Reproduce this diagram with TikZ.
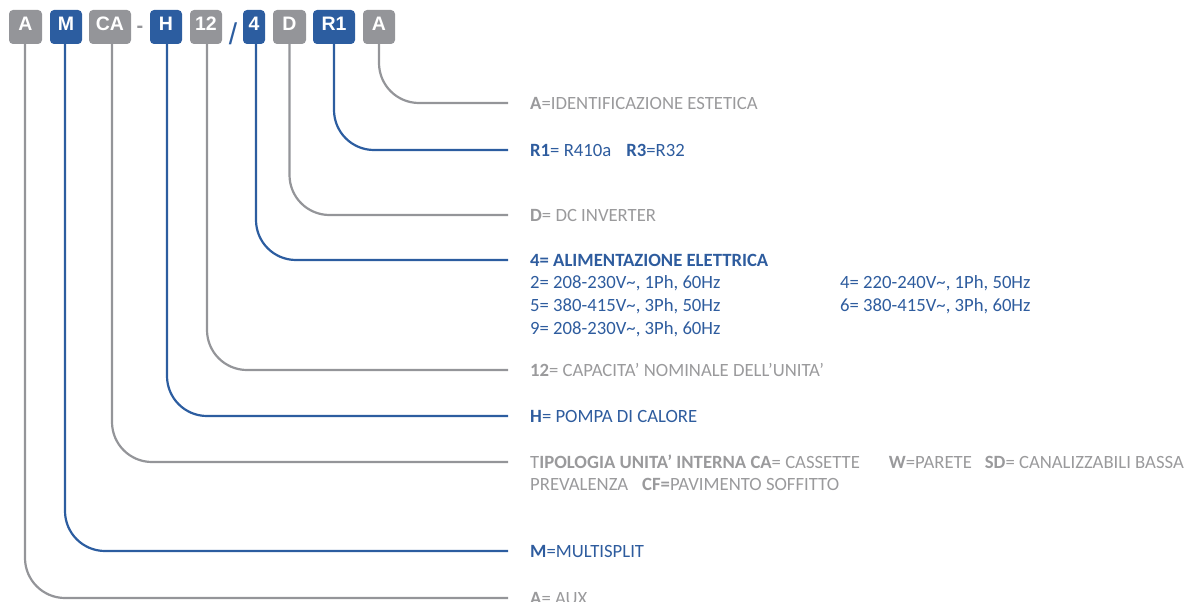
\documentclass[tikz,border=0pt]{standalone}
\usepackage{fontspec}
\setmainfont{Carlito}
\newfontfamily\boxfont{Liberation Sans}
\usetikzlibrary{positioning}

\definecolor{codegray}{RGB}{148,149,153}
\definecolor{codeblue}{RGB}{44,93,160}
\definecolor{txtgray}{RGB}{154,154,156}
\definecolor{txtblue}{RGB}{46,92,158}

\begin{document}
\begin{tikzpicture}
[x=1pt,y=-1pt,
 box/.style={rounded corners=4pt,minimum height=34pt,inner sep=0pt,
   text height=14pt,text depth=6pt,text=white,
   font=\boxfont\bfseries\fontsize{19.5}{20}\selectfont},
 gbox/.style={box,fill=codegray},
 bbox/.style={box,fill=codeblue},
 gline/.style={draw=codegray,line width=2.2pt,rounded corners=40pt},
 bline/.style={draw=codeblue,line width=2.2pt,rounded corners=40pt},
 lbl/.style={anchor=base west,inner sep=0pt,align=left,
   font=\fontsize{18.7}{22.8}\selectfont},
 glbl/.style={lbl,text=txtgray},
 blbl/.style={lbl,text=txtblue}]
\useasboundingbox (0,0) rectangle (1196,602);

% code boxes
\node[gbox,minimum width=33pt] (bAux) at (25.5,27) {A};
\node[bbox,minimum width=32pt] (bM) at (66,27) {M};
\node[gbox,minimum width=42pt] (bCA) at (110,27) {CA};
\node[anchor=base,inner sep=0pt,text=codegray,
  font=\boxfont\bfseries\fontsize{20}{20}\selectfont] (dash) at (140,33) {-};
\node[bbox,minimum width=32pt] (bH) at (166,27) {H};
\node[gbox,minimum width=32pt] (b12) at (206,27) {12};
\node[anchor=base,inner sep=0pt,text=codeblue,
  font=\boxfont\fontsize{30}{30}\selectfont] (slash) at (233,45) {/};
\node[bbox,minimum width=22pt] (b4) at (254,27) {4};
\node[gbox,minimum width=33pt] (bD) at (289.5,27) {D};
\node[bbox,minimum width=42pt] (bR) at (334,27) {R1};
\node[gbox,minimum width=32pt] (bA) at (379,27) {A};

% line ends
\coordinate (eA) at (508,103);
\coordinate (eR) at (508,150);
\coordinate (eD) at (508,215);
\coordinate (e4) at (508,260);
\coordinate (e12) at (508,370);
\coordinate (eH) at (508,416);
\coordinate (eCA) at (508,462);
\coordinate (eM) at (508,551);
\coordinate (eAux) at (508,598);

\draw[gline] (bA.south) |- (eA);
\draw[bline] (bR.south) |- (eR);
\draw[gline] (bD.south) |- (eD);
\draw[bline] ([xshift=2pt]b4.south) |- (e4);
\draw[gline] ([xshift=1pt]b12.south) |- (e12);
\draw[bline] ([xshift=1pt]bH.south) |- (eH);
\draw[gline] ([xshift=2pt]bCA.south) |- (eCA);
\draw[bline] ([xshift=-1pt]bM.south) |- (eM);
\draw[gline] ([xshift=-0.5pt]bAux.south) |- (eAux);

% descriptions (base is the last line)
\node[glbl] (tA) at ([xshift=22pt,yshift=-6pt]eA) {\textbf{A}=IDENTIFICAZIONE ESTETICA};
\node[blbl] (tR) at ([xshift=22pt,yshift=-6pt]eR) {\textbf{R1}= R410a\hspace{15pt}\textbf{R3}=R32};
\node[glbl] (tD) at ([xshift=22pt,yshift=-6pt]eD) {\textbf{D}= DC INVERTER};
\node[blbl] (t4) at ([xshift=22pt,yshift=-74.4pt]e4) {\textbf{4= ALIMENTAZIONE ELETTRICA}\\
  \makebox[310pt][l]{2= 208-230V\textasciitilde, 1Ph, 60Hz}4= 220-240V\textasciitilde, 1Ph, 50Hz\\
  \makebox[310pt][l]{5= 380-415V\textasciitilde, 3Ph, 50Hz}6= 380-415V\textasciitilde, 3Ph, 60Hz\\
  9= 208-230V\textasciitilde, 3Ph, 60Hz};
\node[glbl] (t12) at ([xshift=22pt,yshift=-6pt]e12) {\textbf{12}= CAPACITA’ NOMINALE DELL’UNITA’};
\node[blbl] (tH) at ([xshift=22pt,yshift=-6pt]eH) {\textbf{H}= POMPA DI CALORE};
\node[glbl] (tCA) at ([xshift=22pt,yshift=-28.8pt]eCA) {T\textbf{IPOLOGIA UNITA’ INTERNA CA}= CASSETTE\hspace{29pt}\textbf{W}=PARETE\hspace{13pt}\textbf{SD}= CANALIZZABILI BASSA\\
  PREVALENZA\hspace{14pt}\textbf{CF=}PAVIMENTO SOFFITTO};
\node[blbl] (tM) at ([xshift=22pt,yshift=-6pt]eM) {\textbf{M}=MULTISPLIT};
\node[glbl] (tAux) at ([xshift=22pt,yshift=-6pt]eAux) {\textbf{A}= AUX};
\end{tikzpicture}
\end{document}
